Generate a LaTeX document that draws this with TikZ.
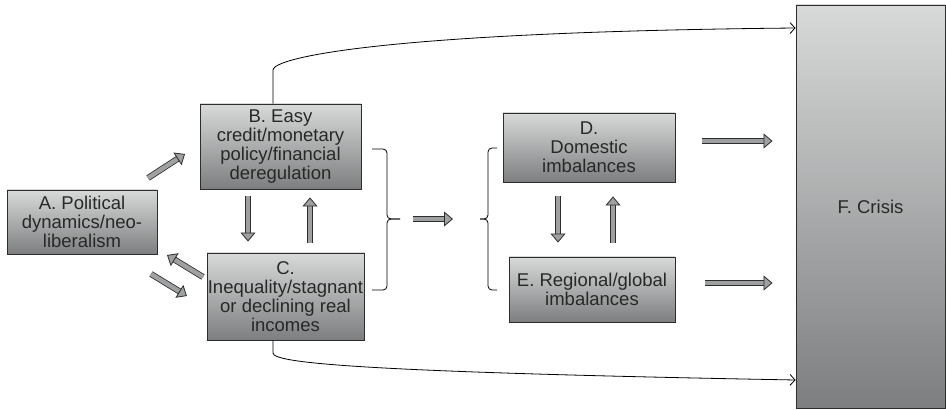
\documentclass[tikz,border=0pt]{standalone}
\usepackage{fontspec}
\setmainfont{Liberation Sans}
\usetikzlibrary{arrows.meta}

\definecolor{boxtop}{RGB}{216,218,218}
\definecolor{boxbot}{RGB}{124,126,127}
\definecolor{boxline}{RGB}{45,45,45}
\definecolor{fatfill}{RGB}{158,160,161}
\definecolor{txt}{RGB}{40,40,40}

\tikzset{
  box/.style={draw=boxline, line width=0.9pt, top color=boxtop, bottom color=boxbot,
    text=txt, align=center, inner sep=0pt, font=\fontsize{18.5}{19}\selectfont},
  fatarrow/.style={draw=boxline, line width=0.8pt, double=fatfill, double distance=4.5pt,
    -{Triangle[length=9pt,width=15pt,fill=fatfill]}},
}

\begin{document}
\begin{tikzpicture}[x=1pt,y=1pt,line width=0.8pt,>={Straight Barb[length=5pt,width=11pt]}]
\useasboundingbox (0,0) rectangle (946,410);
% boxes
\node[box,minimum width=150pt,minimum height=64pt] (A) at (82,188) {A. Political\\dynamics/neo-\\liberalism};
\node[box,minimum width=161pt,minimum height=85pt] (B) at (280.5,263.5) {B. Easy\\credit/monetary\\policy/financial\\deregulation};
\node[box,minimum width=157pt,minimum height=87pt] (C) at (285.5,113.5) {C.\\Inequality/stagnant\\or declining real\\incomes};
\node[box,minimum width=172pt,minimum height=69pt] (D) at (589,262.5) {D.\\Domestic\\imbalances};
\node[box,minimum width=166pt,minimum height=65pt] (E) at (592,120.5) {E. Regional/global\\imbalances};
\node[box,minimum width=149pt,minimum height=403pt] (F) at (870.5,203.5) {F. Crisis};
%
\draw[->] (B.north -| 273,0) -- (273,340) .. controls (273,352) and (380,378) .. (F.west |- 0,382);
\draw[->] (C.south -| 273,0) -- (273,57) .. controls (273,47) and (360,38) .. (F.west |- 0,30);
% braces
\coordinate (lt) at (400,191);
\coordinate (rt) at (480,191);
\draw[rounded corners=4pt] (372,261) -- (387,261) -- (387,191) -- (lt);
\draw[rounded corners=4pt] (372,120) -- (387,120) -- (387,191) -- (lt);
\draw[rounded corners=4pt] (497,262) -- (488,262) -- (488,191) -- (rt);
\draw[rounded corners=4pt] (497,120) -- (488,120) -- (488,191) -- (rt);
% block arrows
\coordinate (ab0) at (148,232);
\coordinate (ab1) at (185,256);
\coordinate (ca0) at (203,133);
\coordinate (ca1) at (167,155);
\coordinate (ac0) at (151,136);
\coordinate (ac1) at (187,114);
\draw[fatarrow] (ab0) -- (ab1);
\draw[fatarrow] (ca0) -- (ca1);
\draw[fatarrow] (ac0) -- (ac1);
\draw[fatarrow,shorten <=7pt,shorten >=11pt] (B.south -| 248,0) -- (C.north -| 248,0);
\draw[fatarrow,shorten <=10pt,shorten >=8pt] (C.north -| 310,0) -- (B.south -| 310,0);
\draw[fatarrow,shorten <=13pt,shorten >=27pt] (lt) -- (rt);
\draw[fatarrow,shorten <=14pt,shorten >=14pt] (D.south -| 558,0) -- (E.north -| 558,0);
\draw[fatarrow,shorten <=14pt,shorten >=14pt] (E.north -| 613,0) -- (D.south -| 613,0);
\draw[fatarrow,shorten <=27pt,shorten >=23pt] (D.east |- 0,269) -- (F.west |- 0,269);
\draw[fatarrow,shorten <=30pt,shorten >=23pt] (E.east |- 0,127) -- (F.west |- 0,127);
\end{tikzpicture}
\end{document}
